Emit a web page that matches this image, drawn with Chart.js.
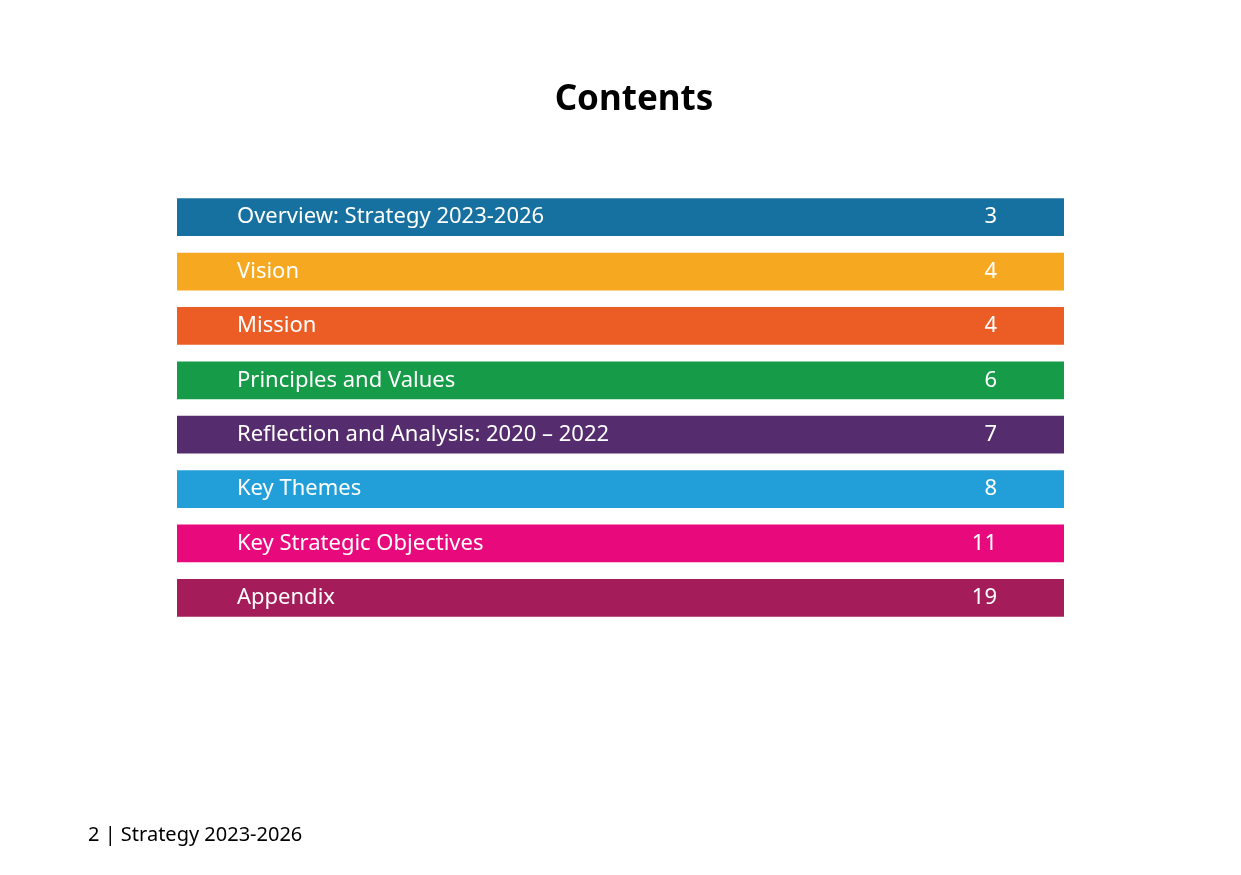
<!DOCTYPE html>
<html>
<head>
<meta charset="utf-8">
<script src="https://cdn.jsdelivr.net/npm/chart.js@4"></script>
<style>
    html, body { margin: 0; padding: 0; background: #ffffff; }
    #wrap { width: 1241px; height: 875px; }
</style>
</head>
<body>
<div id="wrap"><canvas id="contentsChart" width="1241" height="875"></canvas></div>
<script>
// Contents entries, their page numbers and bar colours
const sections = ['Overview: Strategy 2023-2026', 'Vision', 'Mission', 'Principles and Values',
    'Reflection and Analysis: 2020 \u2013 2022', 'Key Themes', 'Key Strategic Objectives', 'Appendix'];
const pages = ['3', '4', '4', '6', '7', '8', '11', '19'];
const barValues = [1, 1, 1, 1, 1, 1, 1, 1];
const barColors = ['#1771a0', '#f6a821', '#ec5d26', '#169b48', '#552c6d', '#229fd9', '#e8097d', '#a41d5a'];

const FONT = '"Noto Sans", "Open Sans", sans-serif';

/** Draws the page title, entry labels, page numbers and footer. */
const textPlugin = {
    id: 'contentsText',
    afterDatasetsDraw(chart) {
        const ctx = chart.ctx;
        const meta = chart.getDatasetMeta(0);
        ctx.save();
        ctx.fillStyle = '#ffffff';
        ctx.textBaseline = 'middle';
        ctx.font = '22px ' + FONT;
        meta.data.forEach((bar, i) => {
            ctx.textAlign = 'left';
            ctx.fillText(sections[i], 237, bar.y);
            ctx.textAlign = 'right';
            ctx.fillText(pages[i], 997, bar.y);
        });
        ctx.fillStyle = '#000000';
        ctx.textAlign = 'center';
        ctx.font = 'bold 35px ' + FONT;
        ctx.fillText('Contents', 634, 100);
        ctx.textAlign = 'left';
        ctx.font = '20px ' + FONT;
        ctx.fillText('2 | Strategy 2023-2026', 88, 835);
        ctx.restore();
    }
};

const chartCanvas = document.getElementById('contentsChart').getContext('2d');
const contentsChart = new Chart(chartCanvas, {
    type: 'bar',
    data: {
        labels: sections,
        datasets: [{
            data: barValues,
            backgroundColor: barColors,
            borderWidth: 0,
            barThickness: 37
        }]
    },
    options: {
        indexAxis: 'y',
        responsive: false,
        animation: false,
        events: [],
        layout: {
            padding: { left: 177, right: 177, top: 190, bottom: 250 }
        },
        scales: {
            x: { display: false, min: 0, max: 1 },
            y: { display: false }
        },
        plugins: {
            legend: { display: false },
            tooltip: { enabled: false }
        }
    },
    plugins: [textPlugin]
});
</script>
</body>
</html>
